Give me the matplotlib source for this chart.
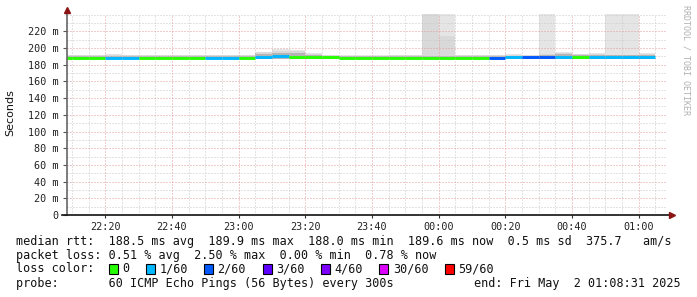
import matplotlib
matplotlib.use("Agg")
import matplotlib.pyplot as plt
from matplotlib.patches import Rectangle
from matplotlib.lines import Line2D
from matplotlib.ticker import MultipleLocator, FixedLocator

# ---------------- data ----------------
step_starts = ["22:05", "22:10", "22:15", "22:20", "22:25", "22:30", "22:35", "22:40",
               "22:45", "22:50", "22:55", "23:00", "23:05", "23:10", "23:15", "23:20",
               "23:25", "23:30", "23:35", "23:40", "23:45", "23:50", "23:55", "00:00",
               "00:05", "00:10", "00:15", "00:20", "00:25", "00:30", "00:35", "00:40",
               "00:45", "00:50", "00:55", "01:00"]
step_end = "01:05"

median_ms = [188.3, 188.3, 188.3, 187.9, 188.5, 188.4, 188.4, 188.4,
             188.4, 188.6, 188.6, 188.6, 189.3, 189.9, 189.7, 189.0,
             188.8, 188.0, 188.0, 188.0, 188.4, 188.4, 188.4, 188.4,
             188.4, 188.4, 188.4, 188.7, 188.7, 188.8, 189.0, 189.0,
             189.4, 189.5, 189.5, 189.6]

loss_pings = [0, 0, 0, 1, 1, 0, 0, 0,
              0, 1, 1, 0, 1, 1, 0, 0,
              0, 0, 0, 0, 0, 0, 0, 0,
              0, 0, 2, 1, 2, 2, 1, 0,
              1, 1, 1, 1]

smoke_low = [186.5] * 36
smoke_inner = [190.8, 190.8, 190.8, 191.0, 190.8, 190.8, 190.8, 190.8,
               190.8, 190.8, 190.8, 190.8, 193.0, 194.0, 194.0, 191.5,
               190.8, 190.5, 190.5, 190.5, 190.8, 190.8, 191.0, 191.0,
               190.8, 190.8, 190.8, 191.0, 191.0, 191.5, 192.5, 191.2,
               191.5, 191.5, 191.5, 192.0]
smoke_mid = [191.2, 191.2, 191.2, 191.8, 191.5, 191.2, 191.2, 191.2,
             191.2, 191.2, 191.2, 191.2, 195.6, 196.0, 196.0, 192.5,
             191.5, 191.0, 191.0, 191.0, 191.2, 191.2, 300.0, 214.4,
             191.2, 191.2, 191.2, 192.0, 191.5, 193.0, 194.0, 192.5,
             192.5, 192.0, 192.0, 192.5]
smoke_outer = [191.5, 191.5, 191.5, 192.8, 192.0, 191.5, 191.5, 191.5,
               191.5, 191.5, 191.5, 191.5, 195.6, 198.4, 198.0, 193.6,
               192.0, 191.3, 191.3, 191.3, 191.5, 191.5, 300.0, 300.0,
               191.5, 191.5, 191.5, 192.5, 192.0, 300.0, 195.6, 192.5,
               194.0, 300.0, 300.0, 193.6]

x_tick_times = ["22:20", "22:40", "23:00", "23:20", "23:40", "00:00", "00:20", "00:40", "01:00"]
y_ticks = [0, 20, 40, 60, 80, 100, 120, 140, 160, 180, 200, 220]
y_tick_labels = ["0", "20 m", "40 m", "60 m", "80 m", "100 m", "120 m", "140 m",
                 "160 m", "180 m", "200 m", "220 m"]

loss_levels = ["0", "1/60", "2/60", "3/60", "4/60", "30/60", "59/60"]
loss_colors = ["#26ff00", "#00b8ff", "#0059ff", "#5e00ff", "#7e00ff", "#dd00ff", "#ff0000"]

row_median = "median rtt:  188.5 ms avg  189.9 ms max  188.0 ms min  189.6 ms now  0.5 ms sd  375.7   am/s"
row_loss = "packet loss: 0.51 % avg  2.50 % max  0.00 % min  0.78 % now"
row_color = "loss color:"
row_probe = "probe:       60 ICMP Echo Pings (56 Bytes) every 300s"
row_end = "end: Fri May  2 01:08:31 2025"
y_label = "Seconds"
watermark = "RRDTOOL / TOBI OETIKER"
view_start = "22:08:31"
view_end = "01:08:31"


def to_min(s):
    parts = [int(p) for p in s.split(":")]
    h, m = parts[0], parts[1]
    sec = parts[2] if len(parts) > 2 else 0
    if h < 12:
        h += 24
    return (h - 22) * 60 + m + sec / 60.0


# ---------------- figure ----------------
W, H = 697, 297
fig = plt.figure(figsize=(W / 100, H / 100), dpi=100)
fig.patch.set_facecolor("white")


def fx(px):
    return px / W


def fy(py):
    return 1 - py / H


ax_l, ax_r, ax_t, ax_b = 67, 667, 14, 215
ax = fig.add_axes([fx(ax_l), fy(ax_b), (ax_r - ax_l) / W, (ax_b - ax_t) / H])
ax.set_facecolor("white")

edges = [to_min(s) for s in step_starts] + [to_min(step_end)]
x0, x1 = to_min(view_start), to_min(view_end)
ax.set_xlim(x0, x1)
ax.set_ylim(0, (ax_b - ax_t) / 0.835)

# smoke layers
ax.stairs(smoke_outer, edges, baseline=smoke_low, fill=True, color="#e5e5e5", zorder=1, lw=0)
ax.stairs(smoke_mid, edges, baseline=smoke_low, fill=True, color="#d9d9d9", zorder=1.1, lw=0)
ax.stairs(smoke_inner, edges, baseline=smoke_low, fill=True, color="#b4b4b4", zorder=1.2, lw=0)

# median line coloured by loss
for i, m in enumerate(median_ms):
    ci = min(loss_pings[i], len(loss_colors) - 1)
    ax.hlines(m, edges[i], edges[i + 1], colors=loss_colors[ci], linewidth=2.1,
              zorder=3, capstyle="butt")

# grid
ax.xaxis.set_major_locator(FixedLocator([to_min(t) for t in x_tick_times]))
ax.xaxis.set_minor_locator(MultipleLocator(5))
ax.set_xticklabels(x_tick_times)
ax.yaxis.set_major_locator(FixedLocator(y_ticks))
ax.yaxis.set_minor_locator(MultipleLocator(10))
ax.set_yticklabels(y_tick_labels)

ax.set_axisbelow("line")
ax.grid(which="minor", color="#c8c8c8", linewidth=0.72, linestyle=(0, (1, 2)))
ax.grid(which="major", color="#e39a9a", linewidth=0.72, linestyle=(0, (1, 2)))

for sp in ax.spines.values():
    sp.set_visible(False)

mono = "DejaVu Sans Mono"
ax.tick_params(axis="y", which="major", length=3, width=0.8, color="#555555",
               pad=3.0, labelsize=7.3, labelcolor="#222222")
ax.tick_params(axis="y", which="minor", length=0)
ax.tick_params(axis="x", which="major", length=2, width=0.8, color="#333333",
               pad=3.0, labelsize=7.3, labelcolor="#222222")
ax.tick_params(axis="x", which="minor", length=0)
for lab in ax.get_xticklabels() + ax.get_yticklabels():
    lab.set_fontfamily(mono)

# axes lines with arrows
ax.add_line(Line2D([0, 0], [0, 1.02], transform=ax.transAxes, color="#666666",
                   lw=1.2, clip_on=False, zorder=4))
ax.add_line(Line2D([-0.008, 1.005], [0, 0], transform=ax.transAxes, color="#111111",
                   lw=1.2, clip_on=False, zorder=4))
ax.plot([0], [1.02], marker="^", markersize=4.5, color="#8a1414", transform=ax.transAxes,
        clip_on=False, zorder=5)
ax.plot([1.008], [0], marker=">", markersize=4.5, color="#8a1414", transform=ax.transAxes,
        clip_on=False, zorder=5)

# y label
fig.text(fx(10), fy(113), y_label, rotation=90, ha="center", va="center",
         fontsize=8, family="DejaVu Sans", color="#111111")

# watermark
fig.text(fx(686), fy(60), watermark, rotation=270, ha="center", va="center",
         fontsize=6, family=mono, color="#b0b0b0")

# legend rows
fs = 8.5
tx = fx(16)
fig.text(tx, fy(241), row_median, ha="left", va="center", fontsize=fs, family=mono, color="#111111")
fig.text(tx, fy(255), row_loss, ha="left", va="center", fontsize=fs, family=mono, color="#111111")
fig.text(tx, fy(269), row_color, ha="left", va="center", fontsize=fs, family=mono, color="#111111")
fig.text(tx, fy(283), row_probe, ha="left", va="center", fontsize=fs, family=mono, color="#111111")
fig.text(fx(681), fy(283), row_end, ha="right", va="center", fontsize=fs, family=mono, color="#111111")

cw = 7.1
bx = 108.6
for lab, col in zip(loss_levels, loss_colors):
    fig.add_artist(Rectangle((fx(bx), fy(274)), 9 / W, 10 / H, transform=fig.transFigure,
                             facecolor=col, edgecolor="#000000", linewidth=0.8))
    lx = bx + 13.5
    fig.text(fx(lx), fy(269), lab, ha="left", va="center", fontsize=fs, family=mono, color="#111111")
    bx = lx + len(lab) * cw + 16.5

fig.savefig("out.png", dpi=100, facecolor="white")
